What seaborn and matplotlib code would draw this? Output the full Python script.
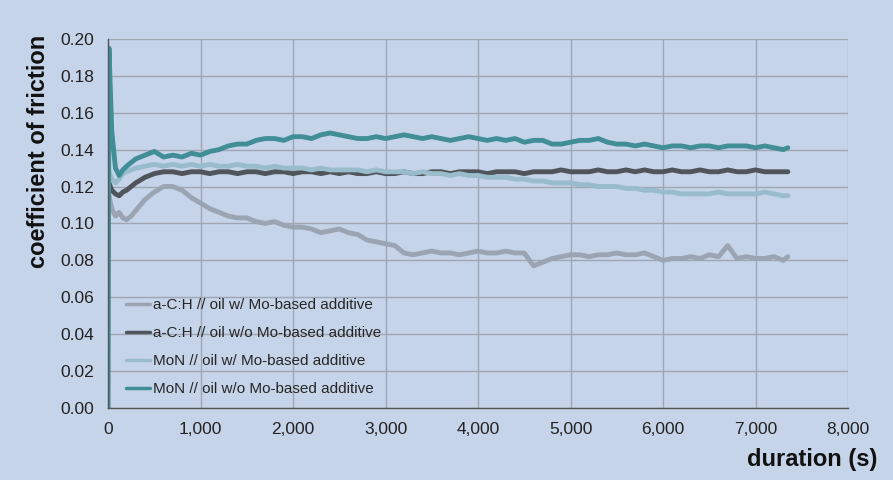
import numpy as np
import pandas as pd
import matplotlib
matplotlib.use("Agg")
import matplotlib.pyplot as plt
import seaborn as sns

# ===== DATA =====
duration_s = [0, 10, 40, 80, 120, 160, 200, 250, 300, 400, 500, 600, 700, 800, 900,
              1000, 1100, 1200, 1300, 1400, 1500, 1600, 1700, 1800, 1900,
              2000, 2100, 2200, 2300, 2400, 2500, 2600, 2700, 2800, 2900,
              3000, 3100, 3200, 3300, 3400, 3500, 3600, 3700, 3800, 3900,
              4000, 4100, 4200, 4300, 4400, 4500, 4600, 4700, 4800, 4900,
              5000, 5100, 5200, 5300, 5400, 5500, 5600, 5700, 5800, 5900,
              6000, 6100, 6200, 6300, 6400, 6500, 6600, 6700, 6800, 6900,
              7000, 7100, 7200, 7300, 7350]

ach_with_mo = [0.122, 0.115, 0.108, 0.104, 0.106, 0.103, 0.102, 0.104, 0.107, 0.113, 0.117, 0.120, 0.120, 0.118, 0.114,
               0.111, 0.108, 0.106, 0.104, 0.103, 0.103, 0.101, 0.100, 0.101, 0.099,
               0.098, 0.098, 0.097, 0.095, 0.096, 0.097, 0.095, 0.094, 0.091, 0.090,
               0.089, 0.088, 0.084, 0.083, 0.084, 0.085, 0.084, 0.084, 0.083, 0.084,
               0.085, 0.084, 0.084, 0.085, 0.084, 0.084, 0.077, 0.079, 0.081, 0.082,
               0.083, 0.083, 0.082, 0.083, 0.083, 0.084, 0.083, 0.083, 0.084, 0.082,
               0.080, 0.081, 0.081, 0.082, 0.081, 0.083, 0.082, 0.088, 0.081, 0.082,
               0.081, 0.081, 0.082, 0.080, 0.082]

ach_without_mo = [0.122, 0.122, 0.118, 0.116, 0.115, 0.117, 0.118, 0.120, 0.122, 0.125, 0.127, 0.128, 0.128, 0.127, 0.128,
                  0.128, 0.127, 0.128, 0.128, 0.127, 0.128, 0.128, 0.127, 0.128, 0.128,
                  0.127, 0.128, 0.128, 0.127, 0.128, 0.127, 0.128, 0.127, 0.127, 0.128,
                  0.127, 0.127, 0.128, 0.127, 0.127, 0.128, 0.128, 0.127, 0.128, 0.128,
                  0.128, 0.127, 0.128, 0.128, 0.128, 0.127, 0.128, 0.128, 0.128, 0.129,
                  0.128, 0.128, 0.128, 0.129, 0.128, 0.128, 0.129, 0.128, 0.129, 0.128,
                  0.128, 0.129, 0.128, 0.128, 0.129, 0.128, 0.128, 0.129, 0.128, 0.128,
                  0.129, 0.128, 0.128, 0.128, 0.128]

mon_with_mo = [0.130, 0.128, 0.124, 0.122, 0.124, 0.127, 0.128, 0.129, 0.130, 0.131, 0.132, 0.131, 0.132, 0.131, 0.132,
               0.131, 0.132, 0.131, 0.131, 0.132, 0.131, 0.131, 0.130, 0.131, 0.130,
               0.130, 0.130, 0.129, 0.130, 0.129, 0.129, 0.129, 0.129, 0.128, 0.129,
               0.128, 0.128, 0.128, 0.127, 0.128, 0.127, 0.127, 0.126, 0.127, 0.126,
               0.126, 0.125, 0.125, 0.125, 0.124, 0.124, 0.123, 0.123, 0.122, 0.122,
               0.122, 0.121, 0.121, 0.120, 0.120, 0.120, 0.119, 0.119, 0.118, 0.118,
               0.117, 0.117, 0.116, 0.116, 0.116, 0.116, 0.117, 0.116, 0.116, 0.116,
               0.116, 0.117, 0.116, 0.115, 0.115]

mon_without_mo = [0.000, 0.195, 0.150, 0.130, 0.126, 0.129, 0.131, 0.133, 0.135, 0.137, 0.139, 0.136, 0.137, 0.136, 0.138,
                  0.137, 0.139, 0.140, 0.142, 0.143, 0.143, 0.145, 0.146, 0.146, 0.145,
                  0.147, 0.147, 0.146, 0.148, 0.149, 0.148, 0.147, 0.146, 0.146, 0.147,
                  0.146, 0.147, 0.148, 0.147, 0.146, 0.147, 0.146, 0.145, 0.146, 0.147,
                  0.146, 0.145, 0.146, 0.145, 0.146, 0.144, 0.145, 0.145, 0.143, 0.143,
                  0.144, 0.145, 0.145, 0.146, 0.144, 0.143, 0.143, 0.142, 0.143, 0.142,
                  0.141, 0.142, 0.142, 0.141, 0.142, 0.142, 0.141, 0.142, 0.142, 0.142,
                  0.141, 0.142, 0.141, 0.140, 0.141]

labels = ["a-C:H // oil w/ Mo-based additive",
          "a-C:H // oil w/o Mo-based additive",
          "MoN // oil w/ Mo-based additive",
          "MoN // oil w/o Mo-based additive"]
colors = ["#9ba4b2", "#50545b", "#98bccb", "#418e96"]

# ===== BUILD LONG TABLE =====
series = [ach_with_mo, ach_without_mo, mon_with_mo, mon_without_mo]
frames = []
for lab, vals in zip(labels, series):
    frames.append(pd.DataFrame({"duration": duration_s, "cof": vals, "sample": lab}))
df = pd.concat(frames, ignore_index=True)

# ===== PLOT =====
bg = "#c6d4ea"
sns.set_style("white")
plt.rcParams["font.family"] = ["Liberation Sans", "DejaVu Sans"]

fig = plt.figure(figsize=(8.93, 4.8), dpi=100, facecolor=bg)
ax = fig.add_axes([0.121, 0.15, 0.8286, 0.769])
ax.set_facecolor(bg)

sns.lineplot(data=df, x="duration", y="cof", hue="sample", hue_order=labels,
             palette=dict(zip(labels, colors)), linewidth=3.5, ax=ax, legend=False,
             sort=False, estimator=None)

ax.set_xlim(0, 8000)
ax.set_ylim(0, 0.20)
ax.set_xticks(range(0, 8001, 1000))
ax.set_xticklabels([f"{v:,}" for v in range(0, 8001, 1000)], fontsize=12.5, color="#222222")
ax.set_yticks([i / 100 for i in range(0, 21, 2)])
ax.set_yticklabels([f"{i / 100:.2f}" for i in range(0, 21, 2)], fontsize=12.5, color="#222222")
ax.grid(True, color="#9ea6b2", linewidth=1)
ax.set_axisbelow(True)
for s in ["top", "right"]:
    ax.spines[s].set_visible(False)
for s in ["left", "bottom"]:
    ax.spines[s].set_color("#555555")
    ax.spines[s].set_linewidth(1)
ax.tick_params(axis="both", direction="out", length=5, color="#555555", pad=5)

ax.set_ylabel("coefficient of friction", fontsize=17, fontweight="bold", color="#111111")
ax.yaxis.set_label_coords(-0.079, 0.696)
ax.set_xlabel("duration (s)", fontsize=17, fontweight="bold", color="#111111", ha="right")
ax.xaxis.set_label_coords(1.04, -0.108)

handles = [plt.Line2D([], [], color=c, linewidth=2.5) for c in colors]
ax.legend(handles, labels, loc="lower left", bbox_to_anchor=(0.005, -0.005), frameon=False,
          fontsize=11, handlelength=1.6, handletextpad=0.2, labelspacing=0.92)

fig.savefig("out.png", dpi=100, facecolor=bg)
